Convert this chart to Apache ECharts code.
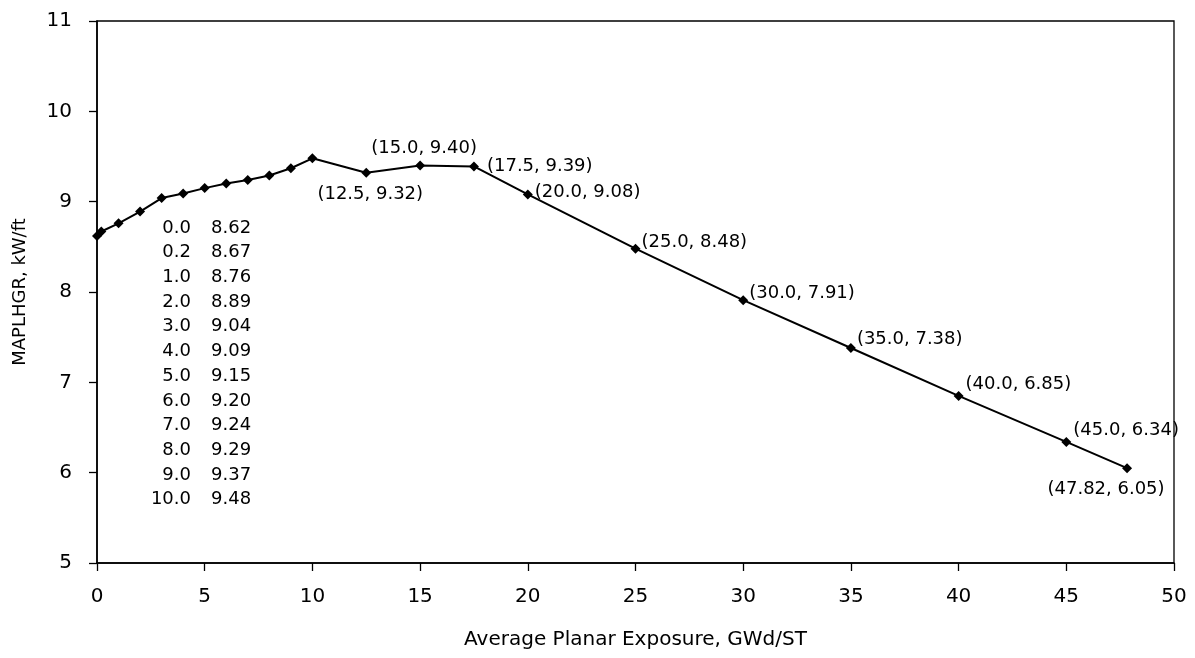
<!DOCTYPE html>
<html>
<head>
<meta charset="utf-8">
<script src="https://cdn.jsdelivr.net/npm/echarts@6/dist/echarts.min.js"></script>
<style>
  html, body { margin: 0; padding: 0; background: #fff; }
  #chart { width: 1195px; height: 658px; }
</style>
</head>
<body>
<div id="chart"></div>
<script>
// Exposure (GWd/ST) and MAPLHGR (kW/ft) limit curve
const exposure = [0.0, 0.2, 1.0, 2.0, 3.0, 4.0, 5.0, 6.0, 7.0, 8.0, 9.0, 10.0,
                  12.5, 15.0, 17.5, 20.0, 25.0, 30.0, 35.0, 40.0, 45.0, 47.82];
const maplhgr  = [8.62, 8.67, 8.76, 8.89, 9.04, 9.09, 9.15, 9.20, 9.24, 9.29, 9.37, 9.48,
                  9.32, 9.40, 9.39, 9.08, 8.48, 7.91, 7.38, 6.85, 6.34, 6.05];
// Rows of the inset table (first 12 points)
const tableCount = 12;

const xTicks = { min: 0, max: 50, interval: 5 };
const yTicks = { min: 5, max: 11, interval: 1 };

// Placement of the "(x, y)" callouts, keyed by exposure; points not listed carry no callout
const calloutPlacement = {
  12.5:  { position: 'bottom', distance: 8, offset: [4, 0] },
  15.0:  { position: 'top',    distance: 3, offset: [4, 0] },
  17.5:  { position: 'right',  distance: 8, offset: [0, 0] },
  20.0:  { position: 'right',  distance: 2, offset: [0, -2] },
  25.0:  { position: 'right',  distance: 1, offset: [0, -6] },
  30.0:  { position: 'right',  distance: 1, offset: [0, -7] },
  35.0:  { position: 'right',  distance: 1, offset: [0, -9] },
  40.0:  { position: 'right',  distance: 2, offset: [0, -12] },
  45.0:  { position: 'right',  distance: 2, offset: [0, -12] },
  47.82: { position: 'bottom', distance: 7, offset: [-21, 0] }
};

const FONT = '"DejaVu Sans", Verdana, sans-serif';

const fmtX = v => (Math.round(v * 10) === v * 10 ? v.toFixed(1) : String(v));

const points = exposure.map((x, i) => {
  const p = { value: [x, maplhgr[i]] };
  const place = calloutPlacement[x];
  if (place) {
    p.label = Object.assign({
      show: true,
      formatter: '(' + fmtX(x) + ', ' + maplhgr[i].toFixed(2) + ')',
      fontFamily: FONT, fontSize: 18, color: '#000'
    }, place);
  }
  return p;
});

const chart = echarts.init(document.getElementById('chart'), null, { renderer: 'canvas' });

chart.setOption({
  animation: false,
  backgroundColor: '#fff',
  grid: { left: 97, right: 21, top: 21, bottom: 95, show: true, borderColor: '#000', borderWidth: 1.3 },
  xAxis: {
    type: 'value', min: xTicks.min, max: xTicks.max, interval: xTicks.interval,
    name: 'Average Planar Exposure, GWd/ST', nameLocation: 'middle', nameGap: 67,
    nameTextStyle: { fontFamily: FONT, fontSize: 20, color: '#000' },
    axisLine: { show: true, lineStyle: { color: '#000', width: 1.6 } },
    axisTick: { show: true, length: 8, lineStyle: { color: '#000', width: 1.3 } },
    axisLabel: { margin: 24, fontFamily: FONT, fontSize: 20, color: '#000' },
    splitLine: { show: false }
  },
  yAxis: {
    type: 'value', min: yTicks.min, max: yTicks.max, interval: yTicks.interval,
    name: 'MAPLHGR, kW/ft', nameLocation: 'middle', nameGap: 68,
    nameTextStyle: { fontFamily: FONT, fontSize: 18, color: '#000' },
    axisLine: { show: true, lineStyle: { color: '#000', width: 1.6 } },
    axisTick: { show: true, length: 8, lineStyle: { color: '#000', width: 1.3 } },
    axisLabel: { margin: 25, fontFamily: FONT, fontSize: 20, color: '#000' },
    splitLine: { show: false }
  },
  series: [{
    type: 'line',
    data: points,
    symbol: 'diamond',
    symbolSize: 10,
    itemStyle: { color: '#000' },
    lineStyle: { color: '#000', width: 2 },
    label: { show: false }
  }]
});

// Inset table of the first exposure points: exposure right-aligned, MAPLHGR left-aligned
const rowGap = 24.7;
const tableTop = 228;
const colA = 191;  // right edge of the exposure column
const colB = 211;  // left edge of the MAPLHGR column
const tableText = [];
for (let i = 0; i < tableCount; i++) {
  const y = tableTop + i * rowGap;
  tableText.push({
    type: 'text', x: colA, y: y,
    style: { text: exposure[i].toFixed(1), align: 'right', verticalAlign: 'middle',
             font: '18px ' + FONT, fill: '#000' }
  });
  tableText.push({
    type: 'text', x: colB, y: y,
    style: { text: maplhgr[i].toFixed(2), align: 'left', verticalAlign: 'middle',
             font: '18px ' + FONT, fill: '#000' }
  });
}
chart.setOption({ graphic: tableText });
</script>
</body>
</html>
